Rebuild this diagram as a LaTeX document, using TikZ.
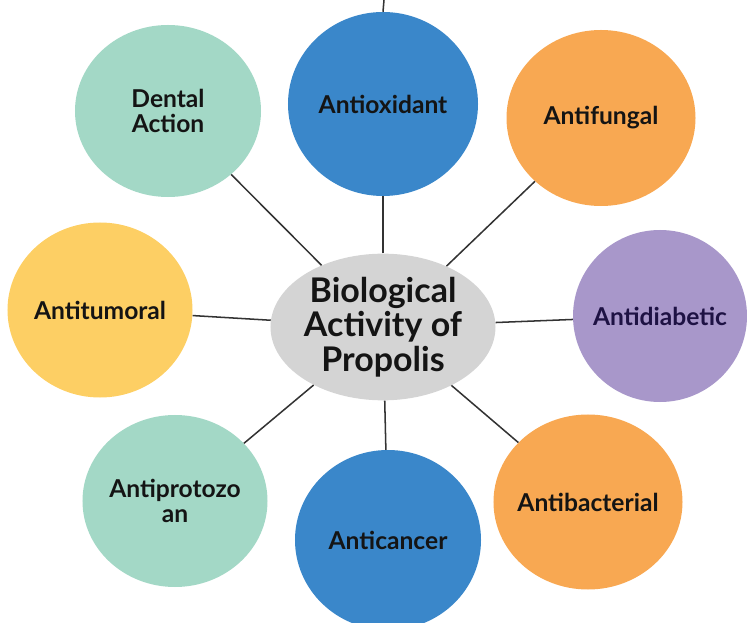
\documentclass[tikz,border=0pt]{standalone}
\usepackage{xcolor}
\usepackage{fontspec}
\setmainfont{Lato}
\usepackage{tikz}
\usetikzlibrary{shapes.geometric}

\definecolor{mint}{HTML}{A3D8C6}
\definecolor{oceanblue}{HTML}{3A87CA}
\definecolor{apricot}{HTML}{F8A852}
\definecolor{lavender}{HTML}{A897CA}
\definecolor{sunflower}{HTML}{FDCF64}
\definecolor{blobgray}{HTML}{D4D4D4}
\definecolor{inkdark}{HTML}{141414}
\definecolor{inknavy}{HTML}{1E1244}

\begin{document}
\begin{tikzpicture}[
  x=0.03cm, y=-0.03cm,
  bubble/.style={ellipse, inner xsep=-20pt, inner ysep=0pt, align=center, text=inkdark,
                 font=\bfseries\fontsize{21}{21}\selectfont},
  mintbubble/.style={bubble, fill=mint},
  bluebubble/.style={bubble, fill=oceanblue},
  orangebubble/.style={bubble, fill=apricot},
  purplebubble/.style={bubble, fill=lavender, text=inknavy},
  yellowbubble/.style={bubble, fill=sunflower},
  hubblob/.style={ellipse, fill=blobgray, inner xsep=-10pt, inner ysep=0pt, align=center,
                  text=inkdark, font=\bfseries\fontsize{29}{29.5}\selectfont},
  link/.style={line width=1.3pt, color=black!80}
]
\useasboundingbox (0,0) rectangle (747,623);

% centre
\node[hubblob, minimum width=6.75cm, minimum height=4.4cm] (hub) at (383,327)
  {Biological\\Activity of\\Propolis};

% ring of activities
\node[mintbubble, minimum width=5.58cm, minimum height=5.16cm] (dental) at (168,111) {Dental\\Action};
\node[bluebubble, minimum width=5.7cm, minimum height=5.52cm] (oxid) at (383,104) {Antioxidant};
\node[orangebubble, minimum width=5.67cm, minimum height=5.28cm] (fungal) at (601,118) {Antifungal};
\node[purplebubble, minimum width=5.22cm, minimum height=5.16cm] (diabetic) at (660,316) {Antidiabetic};
\node[yellowbubble, minimum width=5.55cm, minimum height=5.25cm] (tumoral) at (100,310) {Antitumoral};
\node[mintbubble, minimum width=5.55cm, minimum height=5.16cm] (protozoan) at (175,501) {Antiprotozo\\an};
\node[bluebubble, minimum width=5.58cm, minimum height=5.4cm] (cancer) at (388,540) {Anticancer};
\node[orangebubble, minimum width=5.67cm, minimum height=5.25cm] (bacterial) at (588,502) {Antibacterial};

\coordinate (topend) at (384,0);

\draw[link] (hub) -- (dental);
\draw[link] (hub) -- (oxid);
\draw[link] (hub) -- (fungal);
\draw[link] (hub) -- (diabetic);
\draw[link] (hub) -- (tumoral);
\draw[link] (hub) -- (protozoan);
\draw[link] (hub) -- (cancer);
\draw[link] (hub) -- (bacterial);
\draw[link] (oxid.north) -- (topend);

\end{tikzpicture}
\end{document}
